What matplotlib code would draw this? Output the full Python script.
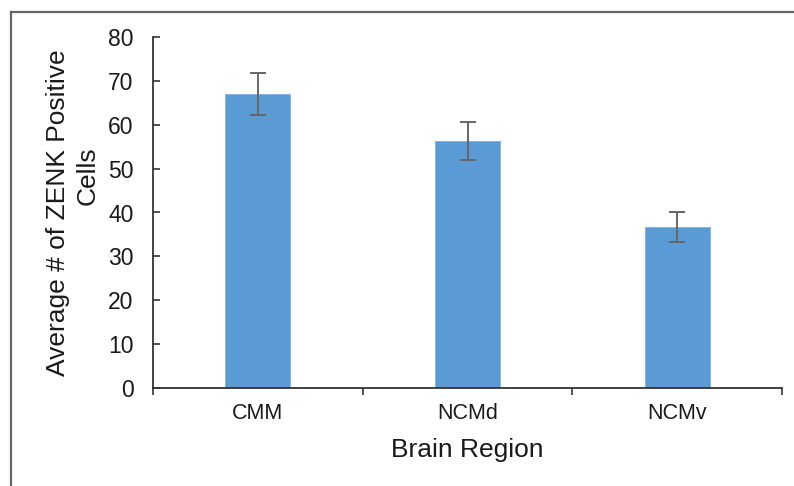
import matplotlib
matplotlib.use("Agg")
import matplotlib.pyplot as plt
from matplotlib.lines import Line2D
import numpy as np

categories = ["CMM", "NCMd", "NCMv"]
values = [67.0, 56.3, 36.7]
errors = [4.7, 4.4, 3.5]
yticks = [0, 10, 20, 30, 40, 50, 60, 70, 80]

plt.rcParams['font.family'] = ['Liberation Sans', 'DejaVu Sans']

fig = plt.figure(figsize=(7.94, 4.86), dpi=100)
ax = fig.add_axes([153/794, 1-388/486, (782-153)/794, (388-37)/486])

x = np.arange(len(categories))
ax.bar(x, values, width=0.31, color='#5B9BD5', edgecolor='#7FB2E5', linewidth=0.6, zorder=2)
ax.errorbar(x, values, yerr=errors, fmt='none', ecolor='#666666', elinewidth=1.4,
            capsize=5.5, capthick=1.4, zorder=3)

ax.set_xlim(-0.5, len(categories) - 0.5)
ax.set_ylim(0, 80)
ax.set_yticks(yticks)
ax.set_yticklabels([str(v) for v in yticks], fontsize=16.5, color='#1a1a1a')
ax.tick_params(axis='y', direction='in', length=5, width=1.2, color='#333333', pad=14)

ax.set_xticks(x)
ax.set_xticklabels(categories, fontsize=15.5, color='#1a1a1a')
ax.tick_params(axis='x', which='major', length=0, pad=11)
ax.set_xticks(np.arange(-0.5, len(categories)), minor=True)
ax.tick_params(axis='x', which='minor', direction='out', length=5, width=1.2, color='#333333')

for s in ['top', 'right']:
    ax.spines[s].set_visible(False)
for s in ['left', 'bottom']:
    ax.spines[s].set_color('#333333')
    ax.spines[s].set_linewidth(1.3)

ax.set_xlabel("Brain Region", fontsize=19, color='#1a1a1a', labelpad=10)

fig.text(58/794, 1-213/486, "Average # of ZENK Positive", rotation=90, fontsize=19,
         ha='center', va='center', color='#1a1a1a')
fig.text(88/794, 1-176/486, "Cells", rotation=90, fontsize=19,
         ha='center', va='center', color='#1a1a1a')

# outer frame (left and top)
fig.add_artist(Line2D([11/794, 11/794], [0, 1-12/486], transform=fig.transFigure,
                      color='#666666', linewidth=1.6))
fig.add_artist(Line2D([11/794, 1], [1-12/486, 1-12/486], transform=fig.transFigure,
                      color='#666666', linewidth=1.6))

fig.savefig("out.png", dpi=100)
